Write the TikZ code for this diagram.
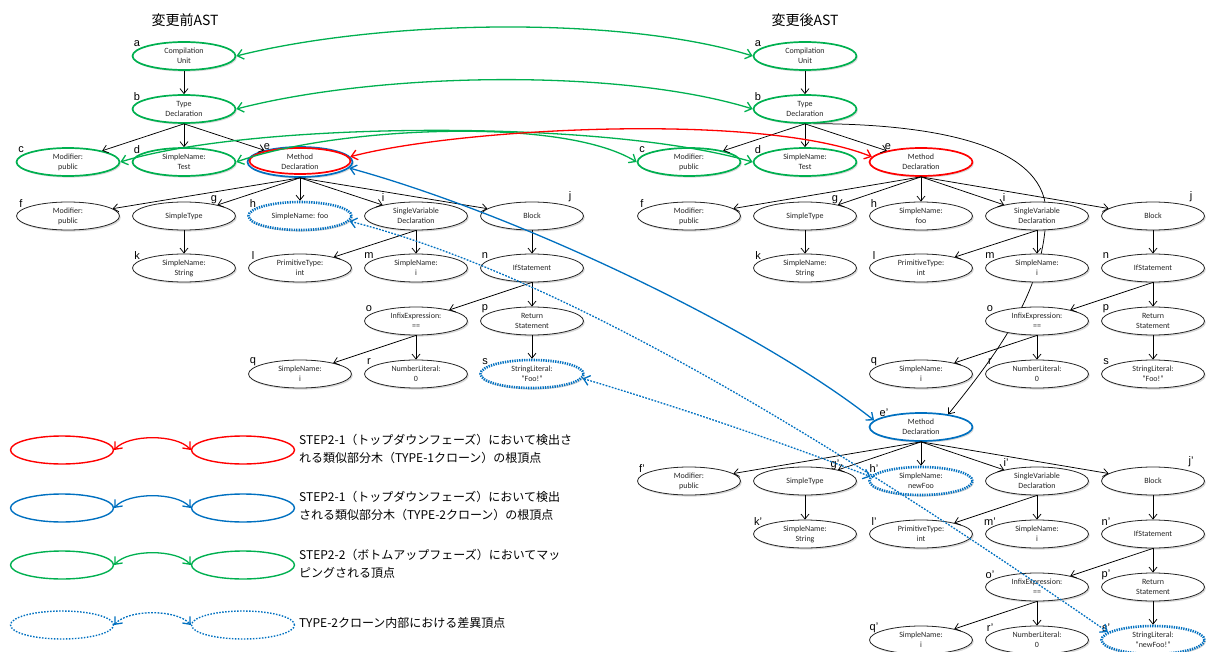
\documentclass[tikz,border=0pt]{standalone}
\usepackage{fontspec}
\newfontfamily\nodefont{Carlito}
\newfontfamily\lblfont{Liberation Sans}
\newfontfamily\jpfont{Noto Sans CJK JP}
\usetikzlibrary{shapes.geometric,arrows.meta,shadows,backgrounds,calc}
\definecolor{mgreen}{HTML}{00B050}
\definecolor{mred}{HTML}{FF0000}
\definecolor{mblue}{HTML}{0070C0}
\tikzset{
  astnode/.style={ellipse, draw=black!85, line width=0.8pt, fill=white, minimum width=103pt, minimum height=28pt, inner sep=0pt, align=center, text=black!85, font=\nodefont\fontsize{8}{10}\selectfont, drop shadow={shadow xshift=1.3pt, shadow yshift=-1.6pt, opacity=0.3}},
  gnode/.style={astnode, draw=mgreen, line width=1.7pt},
  rnode/.style={astnode, draw=mred, line width=1.7pt},
  bnode/.style={astnode, draw=mblue, line width=1.7pt},
  dnode/.style={astnode, draw=mblue, line width=2.6pt, dash pattern=on 1.3pt off 1.1pt},
  lbl/.style={font=\lblfont\fontsize{11}{11}\selectfont, inner sep=0pt},
  tedge/.style={-{Straight Barb[length=5pt,width=8pt]}, line width=0.75pt, draw=black},
  mapline/.style={{Straight Barb[length=6pt,width=10pt]}-{Straight Barb[length=6pt,width=10pt]}, line width=1.3pt},
  mapg/.style={mapline, draw=mgreen},
  mapr/.style={mapline, draw=mred},
  mapb/.style={mapline, draw=mblue},
  mapd/.style={mapline, draw=mblue, dash pattern=on 1.8pt off 1.4pt},
  lgell/.style={ellipse, minimum width=103pt, minimum height=28pt, line width=1.4pt, inner sep=0pt},
  lgtxt/.style={anchor=west, align=left, inner sep=0pt, font=\jpfont\fontsize{12}{18}\selectfont},
  ttl/.style={font=\jpfont\fontsize{14}{14}\selectfont, inner sep=0pt},
}
\newcommand\mk[6]{\node[#1] (#2) at (#3) {#4};\node[lbl] (l#2) at ($(#2)+(#5)$) {#6};}
\begin{document}
\begin{tikzpicture}[x=1pt,y=-1pt]
\useasboundingbox (0,0) rectangle (1206,652);
\node[ttl] (t1) at (185,20) {変更前AST};
\node[ttl] (t2) at (805,20) {変更後AST};
% ---------- left tree ----------
\mk{gnode}{aL}{184,56}{Compilation\\Unit}{-47,-12}{a}
\mk{gnode}{bL}{184,109}{Type\\Declaration}{-47,-12}{b}
\mk{gnode}{cL}{68,162}{Modifier:\\public}{-47,-12}{c}
\mk{gnode}{dL}{184,162}{SimpleName:\\Test}{-47,-12}{d}
\mk{bnode, minimum width=105pt, minimum height=30pt}{eL}{300,162}{Method\\Declaration}{-33,-15}{e}
\node[ellipse, draw=mred, line width=1.7pt, minimum width=101pt, minimum height=26pt, inner sep=0pt] (eLr) at ([yshift=1pt]eL.center) {};
\mk{astnode}{fL}{68,216}{Modifier:\\public}{-47,-12}{f}
\mk{astnode}{gL}{184,216}{SimpleType}{30,-16}{g}
\mk{dnode}{hL}{300,216}{SimpleName: foo}{-47,-12}{h}
\mk{astnode}{iL}{416,216}{SingleVariable\\Declaration}{-33,-18}{i}
\mk{astnode}{jL}{532,216}{Block}{38,-19}{j}
\mk{astnode}{kL}{184,268}{SimpleName:\\String}{-47,-12}{k}
\mk{astnode}{lL}{300,268}{PrimitiveType:\\int}{-47,-12}{l}
\mk{astnode}{mL}{416,268}{SimpleName:\\i}{-47,-12}{m}
\mk{astnode}{nL}{532,268}{IfStatement}{-47,-12}{n}
\mk{astnode}{oL}{416,321}{InfixExpression:\\==}{-47,-12}{o}
\mk{astnode}{pL}{532,321}{Return\\Statement}{-47,-12}{p}
\mk{astnode}{qL}{300,374}{SimpleName:\\i}{-47,-12}{q}
\mk{astnode}{rL}{416,374}{NumberLiteral:\\0}{-47,-12}{r}
\mk{dnode}{sL}{532,374}{StringLiteral:\\“Foo!”}{-47,-12}{s}
% ---------- right tree (top) ----------
\mk{gnode}{aR}{805,56}{Compilation\\Unit}{-47,-12}{a}
\mk{gnode}{bR}{805,109}{Type\\Declaration}{-47,-12}{b}
\mk{gnode}{cR}{689,162}{Modifier:\\public}{-47,-12}{c}
\mk{gnode}{dR}{805,162}{SimpleName:\\Test}{-47,-12}{d}
\mk{rnode}{eR}{921,162}{Method\\Declaration}{-33,-15}{e}
\mk{astnode}{fR}{689,216}{Modifier:\\public}{-47,-12}{f}
\mk{astnode}{gR}{805,216}{SimpleType}{30,-16}{g}
\mk{astnode}{hR}{921,216}{SimpleName:\\foo}{-47,-12}{h}
\mk{astnode}{iR}{1037,216}{SingleVariable\\Declaration}{-33,-18}{i}
\mk{astnode}{jR}{1153,216}{Block}{38,-19}{j}
\mk{astnode}{kR}{805,268}{SimpleName:\\String}{-47,-12}{k}
\mk{astnode}{lR}{921,268}{PrimitiveType:\\int}{-47,-12}{l}
\mk{astnode}{mR}{1037,268}{SimpleName:\\i}{-47,-12}{m}
\mk{astnode}{nR}{1153,268}{IfStatement}{-47,-12}{n}
\mk{astnode}{oR}{1037,321}{InfixExpression:\\==}{-47,-12}{o}
\mk{astnode}{pR}{1153,321}{Return\\Statement}{-47,-12}{p}
\mk{astnode}{qR}{921,374}{SimpleName:\\i}{-47,-12}{q}
\mk{astnode}{rR}{1037,374}{NumberLiteral:\\0}{-47,-12}{r}
\mk{astnode}{sR}{1153,374}{StringLiteral:\\“Foo!”}{-47,-12}{s}
% ---------- right tree (new method) ----------
\mk{bnode}{eP}{921,427}{Method\\Declaration}{-37,-14}{e’}
\mk{astnode}{fP}{689,481}{Modifier:\\public}{-47,-12}{f’}
\mk{astnode}{gP}{805,481}{SimpleType}{30,-16}{g’}
\mk{dnode}{hP}{921,481}{SimpleName:\\newFoo}{-47,-12}{h’}
\mk{astnode}{iP}{1037,481}{SingleVariable\\Declaration}{-31,-18}{i’}
\mk{astnode}{jP}{1153,481}{Block}{38,-19}{j’}
\mk{astnode}{kP}{805,534}{SimpleName:\\String}{-47,-12}{k’}
\mk{astnode}{lP}{921,534}{PrimitiveType:\\int}{-47,-12}{l’}
\mk{astnode}{mP}{1037,534}{SimpleName:\\i}{-47,-12}{m’}
\mk{astnode}{nP}{1153,534}{IfStatement}{-47,-12}{n’}
\mk{astnode}{oP}{1037,587}{InfixExpression:\\==}{-47,-12}{o’}
\mk{astnode}{pP}{1153,587}{Return\\Statement}{-47,-12}{p’}
\mk{astnode}{qP}{921,640}{SimpleName:\\i}{-47,-12}{q’}
\mk{astnode}{rP}{1037,640}{NumberLiteral:\\0}{-47,-12}{r’}
\mk{dnode}{sP}{1153,640}{StringLiteral:\\“newFoo!”}{-47,-12}{s’}
% ---------- tree edges ----------
\foreach \s/\t in {aL/bL,bL/cL,bL/dL,bL/eL,eL/fL,eL/gL,eL/hL,eL/iL,eL/jL,gL/kL,iL/lL,iL/mL,jL/nL,nL/oL,nL/pL,oL/qL,oL/rL,pL/sL,
  aR/bR,bR/cR,bR/dR,bR/eR,eR/fR,eR/gR,eR/hR,eR/iR,eR/jR,gR/kR,iR/lR,iR/mR,jR/nR,nR/oR,nR/pR,oR/qR,oR/rR,pR/sR,
  eP/fP,eP/gP,eP/hP,eP/iP,eP/jP,gP/kP,iP/lP,iP/mP,jP/nP,nP/oP,nP/pP,oP/qP,oP/rP,pP/sP}
  \draw[tedge] (\s.south) -- (\t);
\begin{scope}[on background layer]
\draw[tedge] (bR.-60) .. controls (950,124) and (1048,150) .. (1046,215) .. controls (1044,290) and (1000,350) .. (eP.25);
\end{scope}
% ---------- mappings ----------
\draw[mapg] (aL.east) .. controls (380,20) and (620,15) .. (aR.west);
\draw[mapg] (bL.east) .. controls (380,72) and (620,68) .. (bR.west);
\draw[mapg] (cL.east) .. controls (250,122) and (600,118) .. (dR.west);
\draw[mapg] (dL.east) .. controls (330,128) and (560,115) .. (cR.west);
\draw[mapr] (eL.6) .. controls (460,128) and (760,112) .. (eR.174);
\draw[mapb] (eL.-7) .. controls (520,215) and (760,330) .. (eP.172);
\draw[mapd] (hL.-6) .. controls (560,275) and (830,440) .. (sP.170);
\draw[mapd] (sL.-5) .. controls (678,407) and (775,440) .. (hP.175);
% ---------- legend ----------
\node[lgell, draw=mred] (lr1) at (62,450) {};
\node[lgell, draw=mred] (lr2) at (243,450) {};
\draw[mapr] (lr1.east) .. controls +(14,-16) and +(-14,-16) .. (lr2.west);
\node[lgtxt] (lt1) at (299,449) {STEP2-1（トップダウンフェーズ）において検出さ\\れる類似部分木（TYPE-1クローン）の根頂点};
\node[lgell, draw=mblue] (lb1) at (62,508) {};
\node[lgell, draw=mblue] (lb2) at (243,508) {};
\draw[mapb] (lb1.east) .. controls +(14,-16) and +(-14,-16) .. (lb2.west);
\node[lgtxt] (lt2) at (299,506) {STEP2-1（トップダウンフェーズ）において検出\\される類似部分木（TYPE-2クローン）の根頂点};
\node[lgell, draw=mgreen] (lg1) at (62,565) {};
\node[lgell, draw=mgreen] (lg2) at (243,565) {};
\draw[mapg] (lg1.east) .. controls +(14,-16) and +(-14,-16) .. (lg2.west);
\node[lgtxt] (lt3) at (299,564) {STEP2-2（ボトムアップフェーズ）においてマッ\\ピングされる頂点};
\node[lgell, draw=mblue, dash pattern=on 1.5pt off 1.5pt] (ld1) at (62,625) {};
\node[lgell, draw=mblue, dash pattern=on 1.5pt off 1.5pt] (ld2) at (243,625) {};
\draw[mapd] (ld1.east) .. controls +(14,-16) and +(-14,-16) .. (ld2.west);
\node[lgtxt] (lt4) at (299,623) {TYPE-2クローン内部における差異頂点};
\end{tikzpicture}
\end{document}
